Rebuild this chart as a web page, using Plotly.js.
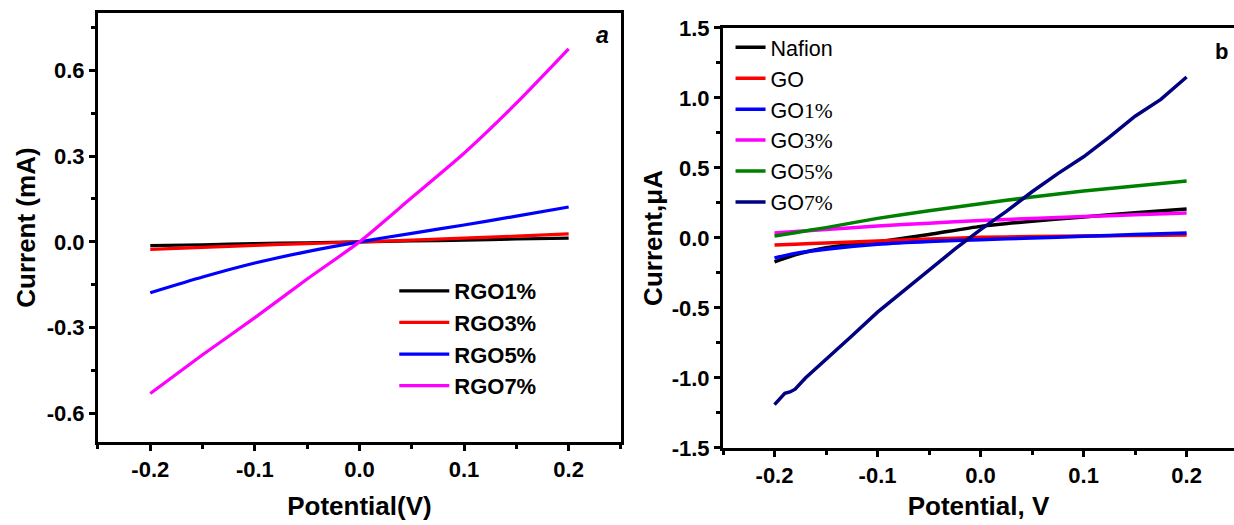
<!DOCTYPE html>
<html>
<head>
<meta charset="utf-8">
<script src="https://cdn.plot.ly/plotly-3.0.1.min.js"></script>
<style>html,body{margin:0;padding:0;overflow:hidden;background:#fff}</style>
</head>
<body>
<div id="chart" style="width:1234px;height:525px"></div>
<script>
// Panel a data (Current, mA vs Potential, V)
const potA = [-0.2, -0.15, -0.1, -0.05, 0, 0.05, 0.1, 0.15, 0.2];
const rgo1 = [-0.013, -0.010, -0.006, -0.003, 0, 0.003, 0.006, 0.010, 0.013];
const rgo3 = [-0.026, -0.019, -0.012, -0.006, 0, 0.006, 0.013, 0.020, 0.028];
const rgo5 = [-0.178, -0.123, -0.074, -0.034, 0, 0.030, 0.059, 0.090, 0.122];
const rgo7 = [-0.530, -0.395, -0.265, -0.130, 0, 0.155, 0.310, 0.485, 0.675];
const namesA = ["RGO1%", "RGO3%", "RGO5%", "RGO7%"];

// Panel b data (Current, µA vs Potential, V)
const potB = [-0.2, -0.18, -0.15, -0.1, -0.05, 0, 0.05, 0.1, 0.15, 0.2];
const nafion = [-0.170, -0.120, -0.070, -0.028, 0.025, 0.083, 0.120, 0.150, 0.180, 0.207];
const go = [-0.050, -0.044, -0.036, -0.022, -0.008, 0.005, 0.010, 0.014, 0.018, 0.022];
const go1 = [-0.143, -0.110, -0.080, -0.045, -0.025, -0.012, 0.000, 0.012, 0.024, 0.036];
const go3 = [0.036, 0.046, 0.061, 0.085, 0.106, 0.125, 0.140, 0.153, 0.166, 0.179];
const go5 = [0.014, 0.038, 0.074, 0.140, 0.195, 0.245, 0.292, 0.335, 0.372, 0.407];
const potB7 = [-0.2, -0.195, -0.19, -0.185, -0.18, -0.17, -0.15, -0.125, -0.1, -0.075, -0.05, -0.025, 0, 0.025, 0.05, 0.075, 0.1, 0.125, 0.15, 0.175, 0.2];
const go7 = [-1.19, -1.15, -1.11, -1.10, -1.08, -1.00, -0.87, -0.70, -0.53, -0.38, -0.23, -0.08, 0.06, 0.19, 0.33, 0.46, 0.58, 0.72, 0.87, 0.99, 1.15];
const namesB = ["Nafion", "GO", "GO1%", "GO3%", "GO5%", "GO7%"];

const xTickVals = [-0.2, -0.1, 0, 0.1, 0.2];
const xTickText = ["-0.2", "-0.1", "0.0", "0.1", "0.2"];
const yTickValsA = [-0.6, -0.3, 0, 0.3, 0.6];
const yTickTextA = ["-0.6", "-0.3", "0.0", "0.3", "0.6"];
const yTickValsB = [-1.5, -1, -0.5, 0, 0.5, 1, 1.5];
const yTickTextB = ["-1.5", "-1.0", "-0.5", "0.0", "0.5", "1.0", "1.5"];

const colorsA = ["#000000", "#ff0000", "#0000ff", "#ff00ff"];
const colorsB = ["#000000", "#ff0000", "#0000ff", "#ff00ff", "#008000", "#000080"];

const serif = "font-family:'Liberation Serif','Times New Roman',serif";
function nameB(n) {
  const m = n.match(/^GO(\d+%)$/);
  return m ? "GO<span style=\"" + serif + "\">" + m[1] + "</span>" : n;
}
const bold = s => "<b>" + s + "</b>";

const traces = [];
[rgo1, rgo3, rgo5, rgo7].forEach((ys, i) => {
  traces.push({x: potA, y: ys, type: "scatter", mode: "lines", name: bold(namesA[i]),
    line: {color: colorsA[i], width: 3.2, shape: "spline", smoothing: 0.6},
    xaxis: "x", yaxis: "y", legend: "legend"});
});
[nafion, go, go1, go3, go5, go7].forEach((ys, i) => {
  traces.push({x: i === 5 ? potB7 : potB, y: ys, type: "scatter", mode: "lines", name: nameB(namesB[i]),
    line: {color: colorsB[i], width: 3.5, shape: i === 5 ? "linear" : "spline", smoothing: 0.6},
    xaxis: "x2", yaxis: "y2", legend: "legend2"});
});

const F = "Liberation Sans, Arial, sans-serif";
const axCommon = {
  showline: true, linecolor: "#000", linewidth: 3, mirror: true,
  ticks: "outside", ticklen: 6, tickwidth: 3, tickcolor: "#000",
  showgrid: false, zeroline: false,
  tickfont: {family: F, size: 22, color: "#000", weight: "bold"},
  minor: {ticks: "outside", ticklen: 4, tickwidth: 3, tickcolor: "#000"}
};
const titleFont = {family: F, size: 26, color: "#000", weight: "bold"};

const layout = {
  width: 1234, height: 525,
  margin: {l: 0, r: 0, t: 0, b: 0},
  paper_bgcolor: "#fff", plot_bgcolor: "#fff",
  showlegend: true,
  xaxis: Object.assign({}, axCommon, {
    domain: [0.0794, 0.5032], range: [-0.25, 0.25], tickvals: xTickVals,
    ticktext: xTickText, anchor: "y",
    minor: Object.assign({}, axCommon.minor, {dtick: 0.05, tick0: -0.25}),
    title: {text: "Potential(V)", font: titleFont, standoff: 16}
  }),
  yaxis: Object.assign({}, axCommon, {
    domain: [0.158, 0.975], range: [-0.7, 0.8], tickvals: yTickValsA,
    ticktext: yTickTextA, anchor: "x",
    minor: Object.assign({}, axCommon.minor, {dtick: 0.15, tick0: -0.75}),
    title: {text: "Current (mA)", font: titleFont, standoff: 4}
  }),
  xaxis2: Object.assign({}, axCommon, {
    domain: [0.5859, 1.0], range: [-0.25, 0.246], tickvals: xTickVals,
    ticktext: xTickText, anchor: "y2",
    minor: Object.assign({}, axCommon.minor, {dtick: 0.05, tick0: -0.25}),
    title: {text: "Potential, V", font: titleFont, standoff: 10}
  }),
  yaxis2: Object.assign({}, axCommon, {
    domain: [0.1467, 0.9467], range: [-1.5, 1.5], tickvals: yTickValsB,
    ticktext: yTickTextB, anchor: "x2", mirror: false,
    minor: Object.assign({}, axCommon.minor, {dtick: 0.25, tick0: -1.5}),
    title: {text: "Current,\u03bcA", font: titleFont, standoff: 2}
  }),
  legend: {
    x: 0.3195, y: 0.4856, xanchor: "left", yanchor: "top", itemwidth: 50,
    bgcolor: "rgba(0,0,0,0)", borderwidth: 0, tracegroupgap: 0,
    font: {family: F, size: 22, color: "#000"}
  },
  legend2: {
    x: 0.592, y: 0.949, xanchor: "left", yanchor: "top",
    bgcolor: "rgba(0,0,0,0)", borderwidth: 0, tracegroupgap: 0,
    font: {family: F, size: 21.5, color: "#000"}
  },
  annotations: [
    {text: "<b><i>a</i></b>", x: 0.481, y: 0.934, xref: "paper", yref: "paper", showarrow: false,
      font: {family: F, size: 23, color: "#000"}, xanchor: "left", yanchor: "middle"},
    {text: "<b>b</b>", x: 0.983, y: 0.901, xref: "paper", yref: "paper", showarrow: false,
      font: {family: F, size: 22, color: "#000"}, xanchor: "left", yanchor: "middle"}
  ]
};

Plotly.newPlot("chart", traces, layout, {displayModeBar: false, staticPlot: true});
</script>
</body>
</html>
